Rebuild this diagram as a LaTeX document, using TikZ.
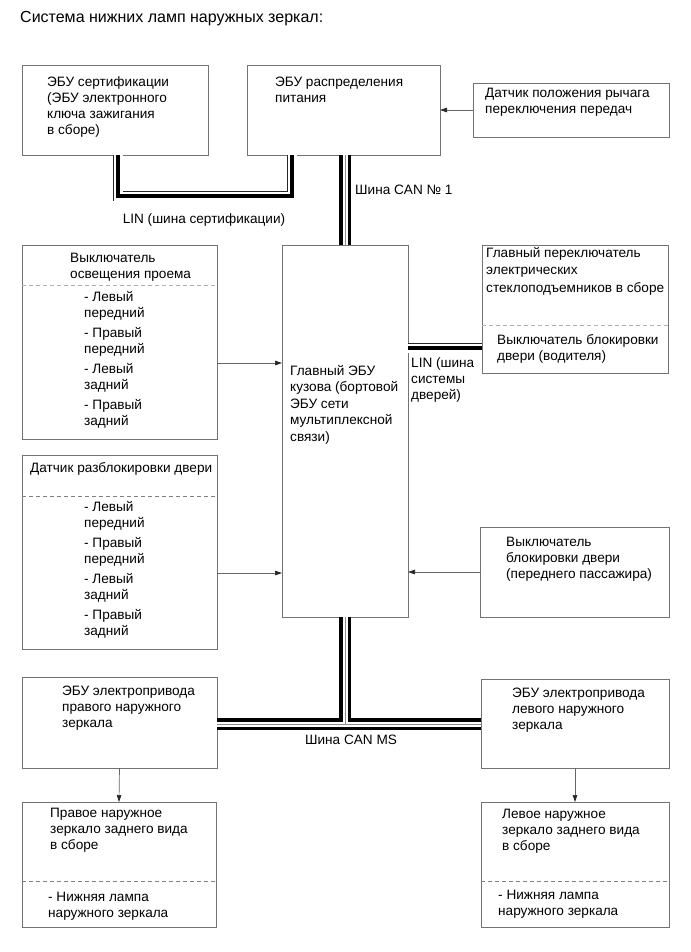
\documentclass[tikz,border=0pt]{standalone}
\usepackage{fontspec}
\setmainfont{Liberation Sans}
\usetikzlibrary{arrows.meta,calc}
\newcommand{\fsz}{\fontsize{13.6}{16}\selectfont}
\newcommand{\tsz}{\fontsize{16}{18}\selectfont}
\begin{document}
\begin{tikzpicture}[x=1pt,y=-1pt,
 box/.style={draw=black!55, line width=0.8pt, anchor=north west, inner sep=0pt, outer sep=0pt},
 txt/.style={anchor=north west, inner sep=0pt, align=left, font=\fsz},
 lbl/.style={inner sep=0pt, font=\fsz},
 sep/.style={draw=black!50, dash pattern=on 4pt off 3pt, line width=0.8pt},
 seplight/.style={draw=black!30, dash pattern=on 4pt off 3pt, line width=0.9pt},
 arr/.style={draw=black!60, line width=0.7pt, -{Triangle[length=7pt,width=4.5pt,color=black!85]}},
 canbus/.style={line width=3.5pt, double=white, double distance=5pt},
 canmid/.style={draw=black!45, line width=0.6pt},
 linbus/.style={draw=black!85, line width=0.8pt, double=white, double distance=9pt},
 linmid/.style={draw=black, line width=4pt}
]
\fill[white] (0,0) rectangle (690,952);
\useasboundingbox (0,0) rectangle (690,952);

% title
\node[lbl, font=\tsz, anchor=west] (title) at (20,19) {Система нижних ламп наружных зеркал:};

% boxes
\node[box, minimum width=186, minimum height=90] (cert) at (22,65) {};
\node[box, minimum width=193, minimum height=90] (pwr) at (247,65) {};
\node[box, minimum width=196, minimum height=54] (shift) at (473,83) {};
\node[box, minimum width=195, minimum height=194] (cour) at (22,245) {};
\node[box, minimum width=195, minimum height=194] (unlock) at (22,455) {};
\node[box, minimum width=126, minimum height=372] (main) at (282,245) {};
\node[box, minimum width=186, minimum height=128] (pwsw) at (482,245) {};
\node[box, minimum width=189, minimum height=90] (pass) at (480,527) {};
\node[box, minimum width=195, minimum height=91] (ecuR) at (22,677) {};
\node[box, minimum width=188, minimum height=89] (ecuL) at (481,679) {};
\node[box, minimum width=194, minimum height=125] (mirR) at (22,802) {};
\node[box, minimum width=188, minimum height=125] (mirL) at (481,802) {};

% dashed separators
\draw[seplight] ([yshift=-40pt]cour.north west) -- ([yshift=-40pt]cour.north east);
\draw[sep] ([yshift=-41pt]unlock.north west) -- ([yshift=-41pt]unlock.north east);
\draw[seplight] ([yshift=-80pt]pwsw.north west) -- ([yshift=-80pt]pwsw.north east);
\draw[sep] ([yshift=-79pt]mirR.north west) -- ([yshift=-79pt]mirR.north east);
\draw[sep] ([yshift=-79pt]mirL.north west) -- ([yshift=-79pt]mirL.north east);

% texts
\node[txt] (certT) at (47,75) {\strut ЭБУ сертификации\\(ЭБУ электронного\\ключа зажигания\\в сборе)};
\node[txt] (pwrT) at (275,75) {\strut ЭБУ распределения\\питания};
\node[txt] (shiftT) at (485,86) {\strut Датчик положения рычага\\переключения передач};
\node[txt] (courT) at (70,251) {\strut Выключатель\\освещения проема};
\node[txt] (courI) at (84,290) {\strut - Левый\\передний\\[4pt]- Правый\\передний\\[4pt]- Левый\\задний\\[4pt]- Правый\\задний};
\node[txt] (unlockT) at (30,461) {\strut Датчик разблокировки двери};
\node[txt] (unlockI) at (84,500) {\strut - Левый\\передний\\[4pt]- Правый\\передний\\[4pt]- Левый\\задний\\[4pt]- Правый\\задний};
\node[txt] (mainT) at (290,364) {\strut Главный ЭБУ\\[0.5pt]кузова (бортовой\\[0.5pt]ЭБУ сети\\[0.5pt]мультиплексной\\[0.5pt]связи)};
\node[txt] (pwswT) at (486,246) {\strut Главный переключатель\\[1.5pt]электрических\\[1.5pt]стеклоподъемников в сборе};
\node[txt] (pwswB) at (497,333) {\strut Выключатель блокировки\\двери (водителя)};
\node[txt] (passT) at (506,535) {\strut Выключатель\\блокировки двери\\(переднего пассажира)};
\node[txt] (ecuRT) at (62,684) {\strut ЭБУ электропривода\\правого наружного\\зеркала};
\node[txt] (ecuLT) at (512,686) {\strut ЭБУ электропривода\\левого наружного\\зеркала};
\node[txt] (mirRT) at (50,806) {\strut Правое наружное\\зеркало заднего вида\\в сборе};
\node[txt] (mirRB) at (48,890) {\strut - Нижняя лампа\\наружного зеркала};
\node[txt] (mirLT) at (502,807) {\strut Левое наружное\\зеркало заднего вида\\в сборе};
\node[txt] (mirLB) at (498,888) {\strut - Нижняя лампа\\наружного зеркала};

% helper coordinates
\coordinate (linA) at (118,196);
\coordinate (linB) at (292,196);
\coordinate (doorY) at (0,348);
\coordinate (j) at (345,724);

% LIN certification bus
\draw[linbus] (cert.south -| linA) -- (linA) -- (linB) -- (pwr.south -| linB);
\draw[linmid] (cert.south -| linA) -- (linA) -- (linB) -- (pwr.south -| linB);
\node[lbl] (linCertL) at (204,220) {LIN (шина сертификации)};

% CAN No 1
\draw[canbus] (pwr.south -| main.north) -- (main.north);
\draw[canmid] (pwr.south -| main.north) -- (main.north);
\node[lbl, anchor=west] (can1L) at (355,190) {Шина CAN № 1};

% LIN door bus
\draw[linbus] (main.east |- doorY) -- (pwsw.west |- doorY);
\draw[linmid] (main.east |- doorY) -- (pwsw.west |- doorY);
\node[txt] (linDoorL) at (411,356) {\strut LIN (шина\\системы\\дверей)};

% CAN MS
\draw[canbus] (ecuR.east |- j) -- (j) -- (main.south) (ecuL.west |- j) -- (j);
\draw[canmid] (ecuR.east |- j) -- (j) -- (main.south) (ecuL.west |- j) -- (j);
\node[lbl] (canMSL) at (351,740) {Шина CAN MS};

% arrows
\draw[arr] (shift.west) -- (shift.west -| pwr.east);
\draw[arr] ([yshift=-21pt]cour.east) -- ([yshift=-21pt]cour.east -| main.west);
\draw[arr] ([yshift=-21pt]unlock.east) -- ([yshift=-21pt]unlock.east -| main.west);
\draw[arr] (pass.west) -- (pass.west -| main.east);
\draw[arr] (ecuR.south) -- (mirR.north);
\draw[arr] (ecuL.south) -- (mirL.north);
\end{tikzpicture}
\end{document}
